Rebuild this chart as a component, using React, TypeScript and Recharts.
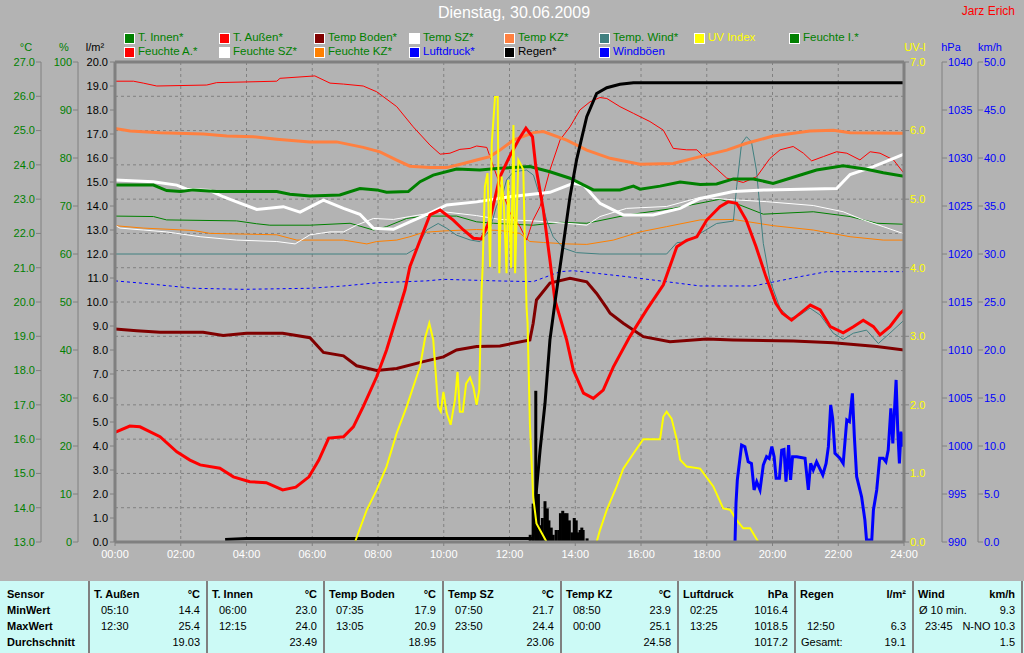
import React from 'react'
import { ComposedChart, Line, Bar, XAxis, YAxis, CartesianGrid, ReferenceLine } from 'recharts'

type Pt = [number, number]

// time axis (hours) and tick values of the six scales
const hourTicks = [0, 2, 4, 6, 8, 10, 12, 14, 16, 18, 20, 22, 24]
const tempTicks = [13, 14, 15, 16, 17, 18, 19, 20, 21, 22, 23, 24, 25, 26, 27]
const humTicks = [0, 10, 20, 30, 40, 50, 60, 70, 80, 90, 100]
const rainTicks = [0, 1, 2, 3, 4, 5, 6, 7, 8, 9, 10, 11, 12, 13, 14, 15, 16, 17, 18, 19, 20]
const uvTicks = [0, 1, 2, 3, 4, 5, 6, 7]
const hpaTicks = [990, 995, 1000, 1005, 1010, 1015, 1020, 1025, 1030, 1035, 1040]
const windTicks = [0, 5, 10, 15, 20, 25, 30, 35, 40, 45, 50]

// series: [hour, value]
const tAussen: Pt[] = [[0, 16.2], [0.45, 16.38], [0.76, 16.36], [1.37, 16.07], [1.88, 15.63], [2.28, 15.39], [2.59, 15.25], [3.19, 15.15], [3.6, 14.9], [4.1, 14.76], [4.6, 14.73], [5.1, 14.52], [5.5, 14.6], [5.9, 14.9], [6.2, 15.39], [6.5, 16.03], [6.95, 16.07], [7.25, 16.36], [7.55, 16.95], [7.96, 17.82], [8.26, 18.6], [8.57, 19.57], [8.82, 20.35], [8.97, 21.03], [9.28, 21.8], [9.58, 22.54], [9.89, 22.68], [10.29, 22.39], [10.6, 22.1], [10.9, 21.86], [11.15, 21.84], [11.4, 22.39], [11.71, 23.65], [12, 24.24], [12.3, 24.77], [12.5, 25.07], [12.7, 24.82], [12.8, 23.95], [13.03, 22.68], [13.23, 21.22], [13.38, 20.06], [13.74, 18.89], [13.94, 18.02], [14.25, 17.34], [14.55, 17.19], [14.85, 17.43], [15.16, 18.11], [15.66, 18.99], [16.17, 19.77], [16.68, 20.5], [17.09, 21.61], [17.39, 21.8], [17.7, 21.9], [18, 22.39], [18.4, 22.78], [18.65, 22.92], [18.91, 22.88], [19.2, 22.39], [19.5, 21.61], [19.8, 20.74], [20.1, 19.96], [20.3, 19.67], [20.58, 19.47], [20.84, 19.67], [21.15, 19.91], [21.45, 19.77], [21.76, 19.28], [22.15, 19.1], [22.46, 19.28], [22.76, 19.47], [23.07, 19.28], [23.27, 19.04], [23.57, 19.28], [23.88, 19.67], [24, 19.77]]
const tInnen: Pt[] = [[0, 23.41], [1.17, 23.41], [1.57, 23.25], [2, 23.22], [2.37, 23.27], [3.09, 23.22], [4.92, 23.22], [5.32, 23.14], [5.93, 23.09], [6.84, 23.12], [7.45, 23.31], [7.96, 23.27], [8.26, 23.2], [8.92, 23.22], [9.28, 23.51], [9.68, 23.7], [10.39, 23.88], [11.1, 23.85], [11.71, 23.9], [12.62, 23.95], [13.23, 23.8], [13.84, 23.61], [14.55, 23.27], [15.36, 23.27], [15.77, 23.38], [15.97, 23.29], [16.58, 23.38], [17.19, 23.5], [17.8, 23.43], [18.3, 23.44], [18.81, 23.59], [19.42, 23.59], [20.02, 23.46], [20.63, 23.64], [21.34, 23.85], [22.15, 23.97], [22.86, 23.87], [23.37, 23.77], [24, 23.67]]
const tBoden: Pt[] = [[0, 19.21], [0.66, 19.16], [1.37, 19.12], [2.68, 19.12], [3.29, 19.02], [4, 19.09], [5.1, 19.09], [5.93, 18.96], [6.34, 18.53], [6.95, 18.43], [7.35, 18.14], [7.96, 18.0], [8.57, 18.06], [9.38, 18.26], [9.99, 18.4], [10.39, 18.6], [11, 18.7], [11.71, 18.72], [12.62, 18.89], [12.72, 19.38], [12.82, 20.06], [13.23, 20.55], [13.84, 20.69], [14.35, 20.59], [14.65, 20.25], [14.96, 19.82], [15.06, 19.67], [15.46, 19.38], [16.07, 18.99], [16.88, 18.84], [18, 18.92], [18.8, 18.89], [20.63, 18.86], [21.85, 18.81], [23.17, 18.7], [24, 18.6]]
const tSZ: Pt[] = [[0, 23.56], [1.16, 23.51], [1.88, 23.41], [2.18, 23.29], [2.89, 23.25], [3.29, 23.07], [3.7, 22.92], [4.31, 22.7], [5.12, 22.78], [5.63, 22.62], [6.34, 22.97], [6.95, 22.73], [7.45, 22.56], [7.86, 22.15], [8.47, 22.12], [8.97, 22.34], [9.58, 22.59], [10.09, 22.83], [11, 22.92], [12, 23.07], [13.23, 23.2], [13.94, 23.46], [14.25, 23.41], [14.75, 22.88], [15.46, 22.54], [16.37, 22.54], [17.19, 22.73], [17.8, 23.02], [18.81, 23.22], [19.82, 23.27], [21.95, 23.31], [22.36, 23.72], [23.07, 23.95], [24, 24.31]]
const tKZ: Pt[] = [[0, 25.06], [0.46, 24.99], [1.37, 24.94], [2.69, 24.9], [3.4, 24.84], [4.21, 24.82], [4.92, 24.75], [5.93, 24.67], [6.74, 24.67], [7.55, 24.51], [8.06, 24.38], [8.57, 24.14], [8.97, 23.96], [9.58, 23.92], [10.09, 23.92], [10.6, 24.04], [11, 24.14], [11.4, 24.24], [11.71, 24.43], [12.12, 24.72], [12.73, 24.94], [13.03, 24.97], [13.74, 24.72], [14.35, 24.43], [15.06, 24.19], [15.97, 24.02], [16.98, 24.04], [17.8, 24.24], [18.61, 24.43], [19.21, 24.63], [20.02, 24.84], [21.14, 24.99], [21.85, 25.01], [22.36, 24.94], [24, 24.92]]
const tWind: Pt[] = [[0, 21.4], [8.87, 21.4], [9.17, 21.57], [9.48, 22.1], [9.83, 22.29], [10.09, 22.15], [10.39, 21.95], [10.8, 21.81], [11.1, 21.76], [11.4, 22.1], [11.6, 22.78], [11.8, 23.17], [11.91, 23.56], [12.12, 23.8], [12.52, 23.85], [12.73, 23.7], [12.93, 23.07], [13.13, 22.39], [13.33, 21.9], [13.64, 21.57], [14.04, 21.44], [14.75, 21.4], [16.78, 21.4], [17.09, 21.73], [17.39, 21.76], [17.8, 22.0], [18.3, 22.29], [18.81, 22.36], [18.91, 23.36], [19.06, 24.63], [19.21, 24.82], [19.36, 24.67], [19.51, 23.85], [19.72, 21.71], [19.92, 20.64], [20.23, 19.82], [20.53, 19.52], [20.84, 19.62], [21.14, 19.82], [21.45, 19.62], [21.85, 19.09], [22.15, 18.91], [22.46, 19.09], [22.86, 19.18], [23.22, 18.79], [23.57, 19.09], [24, 19.47]]

const feuchteA: Pt[] = [[0, 96.0], [0.56, 96.0], [0.86, 95.6], [1.27, 95.0], [2.79, 95.2], [3.09, 95.7], [4.92, 96.0], [5.02, 96.6], [6.08, 97.1], [6.54, 95.6], [6.95, 95.4], [7.55, 95.0], [7.96, 93.8], [8.57, 90.7], [9.07, 86.5], [9.58, 82.7], [9.89, 80.8], [10.19, 81.0], [10.49, 81.8], [10.8, 82.0], [11.0, 82.5], [11.31, 82.2], [11.51, 78.2], [11.71, 74.5], [12.02, 68.5], [12.32, 65.7], [12.52, 62.9], [12.72, 67.1], [12.93, 69.9], [13.23, 77.5], [13.54, 83.8], [13.84, 86.5], [14.14, 90.0], [14.45, 91.7], [14.75, 92.6], [14.96, 92.4], [15.36, 90.7], [15.77, 89.3], [16.27, 87.6], [16.68, 85.8], [16.98, 82.0], [17.39, 81.7], [17.7, 81.7], [18.0, 79.6], [18.61, 75.8], [19.11, 74.9], [19.52, 76.1], [19.92, 79.9], [20.23, 81.7], [20.63, 82.4], [20.94, 81.0], [21.19, 79.4], [21.55, 80.3], [21.95, 81.3], [22.26, 81.0], [22.66, 79.6], [22.97, 81.3], [23.27, 81.0], [23.68, 79.6], [24, 76.8]]
const feuchteSZ: Pt[] = [[0, 66.0], [0.15, 65.4], [0.86, 65.0], [1.57, 64.6], [2.59, 63.6], [3.7, 62.9], [4.92, 62.6], [5.48, 62.1], [5.93, 64.0], [6.54, 64.6], [6.95, 64.6], [7.35, 66.0], [7.86, 67.4], [8.47, 67.2], [8.97, 67.8], [9.58, 68.5], [9.99, 68.8], [11.0, 68.0], [11.71, 67.2], [12.72, 66.9], [13.74, 66.4], [14.35, 66.0], [14.75, 67.8], [15.56, 69.5], [16.78, 69.9], [17.8, 71.8], [18.81, 71.3], [19.82, 70.9], [21.24, 70.1], [22.15, 68.8], [22.76, 67.1], [23.37, 65.7], [24, 64.2]]
const feuchteKZ: Pt[] = [[0, 65.9], [0.86, 65.4], [2.38, 64.9], [2.89, 64.3], [4.92, 64.0], [5.53, 62.9], [6.95, 62.9], [7.66, 62.1], [7.96, 62.6], [8.57, 62.9], [8.97, 63.6], [9.38, 64.5], [9.99, 64.8], [11.0, 65.1], [11.71, 64.9], [12.32, 64.3], [12.62, 62.6], [13.03, 62.4], [13.74, 62.1], [14.35, 62.0], [15.16, 62.9], [15.97, 64.6], [16.78, 65.7], [17.8, 67.1], [18.81, 67.2], [20.02, 65.9], [21.24, 65.0], [22.36, 63.6], [23.37, 62.9], [24, 62.9]]
const feuchteI: Pt[] = [[0, 67.9], [1.17, 67.8], [1.57, 67.1], [3.7, 66.9], [4.31, 66.3], [4.71, 66.0], [5.93, 66.0], [7.15, 66.4], [7.86, 65.0], [8.26, 65.7], [8.87, 67.4], [9.38, 67.9], [10.39, 67.9], [11.0, 66.7], [11.51, 66.4], [12.72, 66.0], [13.54, 66.6], [14.35, 66.4], [15.56, 68.1], [16.98, 69.5], [18.4, 71.4], [19.01, 70.2], [19.72, 68.3], [21.24, 68.8], [22.36, 67.8], [23.17, 66.4], [24, 66.2]]

const luftdruck: Pt[] = [[0, 1017.2], [0.86, 1016.95], [2.38, 1016.43], [3.9, 1016.32], [5.93, 1016.43], [6.95, 1016.67], [7.96, 1017.0], [9.48, 1017.2], [9.99, 1017.36], [11.71, 1017.19], [12.72, 1017.12], [13.54, 1018.16], [13.94, 1018.26], [15.56, 1017.64], [17.8, 1016.67], [19.42, 1016.67], [20.84, 1017.64], [21.65, 1018.16], [24, 1018.16]]

const regenSumme: Pt[] = [[3.35, 0.1], [4.0, 0.15], [12.72, 0.15], [12.82, 2.17], [12.93, 3.83], [13.08, 5.78], [13.23, 8.42], [13.4, 10.15], [13.64, 12.44], [13.84, 14.39], [14.04, 15.92], [14.35, 17.72], [14.65, 18.69], [14.96, 18.93], [15.36, 19.07], [15.77, 19.14], [24, 19.14]]
const regenMenge: Pt[] = [[12.63, 0.3], [12.72, 1.6], [12.8, 6.3], [12.88, 2.0], [12.95, 0.7], [13.0, 1.0], [13.08, 1.7], [13.15, 1.4], [13.2, 0.9], [13.27, 0.6], [13.33, 0.3], [13.42, 0.5], [13.5, 0.5], [13.55, 1.2], [13.62, 1.3], [13.68, 1.2], [13.75, 1.2], [13.82, 0.9], [13.9, 0.4], [13.97, 1.0], [14.03, 0.9], [14.08, 0.4], [14.15, 0.5], [14.2, 0.6], [14.24, 0.5], [14.36, 0.15]]

const uvIndex: Pt[] = [[0, 0], [7.3, 0], [7.66, 0.47], [7.96, 0.76], [8.26, 1.1], [8.57, 1.59], [8.87, 1.97], [9.07, 2.26], [9.28, 2.56], [9.43, 2.97], [9.56, 3.19], [9.68, 2.95], [9.83, 1.97], [9.91, 1.9], [9.99, 2.19], [10.09, 1.88], [10.21, 1.71], [10.34, 2.07], [10.42, 2.48], [10.49, 1.9], [10.58, 1.9], [10.68, 2.31], [10.8, 2.4], [10.9, 2.26], [11.0, 2.0], [11.08, 2.22], [11.15, 3.67], [11.18, 3.97], [11.25, 5.18], [11.33, 5.38], [11.41, 4.01], [11.46, 5.81], [11.56, 6.49], [11.64, 6.49], [11.69, 3.92], [11.76, 5.33], [11.83, 4.89], [11.91, 3.92], [11.96, 5.28], [12.05, 4.0], [12.12, 6.08], [12.17, 3.92], [12.27, 5.57], [12.35, 5.5], [12.42, 5.43], [12.47, 4.31], [12.52, 3.41], [12.55, 3.19], [12.62, 1.73], [12.72, 0.66], [12.82, 0.27], [12.98, 0.13], [13.13, 0], [14.65, 0], [14.75, 0.17], [14.96, 0.47], [15.26, 0.81], [15.46, 1.07], [15.77, 1.29], [16.07, 1.5], [16.58, 1.5], [16.68, 1.83], [16.78, 1.9], [16.93, 1.8], [17.09, 1.49], [17.19, 1.2], [17.39, 1.1], [17.8, 1.07], [18.2, 0.81], [18.5, 0.49], [18.71, 0.47], [18.91, 0.32], [19.11, 0.2], [19.32, 0.2], [19.57, 0], [24, 0]]

const windboeen: Pt[] = [[18.86, 0], [18.89, 4.03], [18.93, 6.46], [19.06, 10.1], [19.16, 9.93], [19.26, 8.36], [19.36, 8.19], [19.44, 5.42], [19.52, 6.28], [19.62, 5.42], [19.72, 8.02], [19.82, 8.89], [19.9, 8.7], [19.98, 9.93], [20.05, 8.89], [20.11, 6.63], [20.21, 6.63], [20.28, 9.58], [20.35, 9.65], [20.41, 6.28], [20.49, 10.1], [20.55, 6.46], [20.61, 8.89], [20.74, 8.89], [20.99, 8.72], [21.09, 5.42], [21.16, 8.19], [21.24, 7.5], [21.34, 8.36], [21.53, 6.98], [21.63, 8.19], [21.7, 9.93], [21.77, 14.27], [21.83, 12.88], [21.9, 9.24], [22.05, 8.72], [22.15, 8.19], [22.26, 12.71], [22.34, 12.53], [22.43, 15.49], [22.49, 10.97], [22.56, 6.8], [22.71, 4.72], [22.81, 2.29], [22.86, 0.2], [23.02, 0.2], [23.07, 3.33], [23.17, 5.42], [23.26, 8.72], [23.37, 8.72], [23.45, 8.36], [23.52, 9.58], [23.6, 13.93], [23.66, 10.28], [23.7, 13.05], [23.76, 16.88], [23.81, 11.67], [23.86, 8.19], [23.91, 11.49], [23.96, 9.93], [24, 11.32]]

// legend
const legendRow1 = ['T. Innen*', 'T. Außen*', 'Temp Boden*', 'Temp SZ*', 'Temp KZ*', 'Temp. Wind*', 'UV Index', 'Feuchte I.*']
const legendRow2 = ['Feuchte A.*', 'Feuchte SZ*', 'Feuchte KZ*', 'Luftdruck*', 'Regen*', 'Windböen']

// statistics table
const tabHeads = ['T. Außen', 'T. Innen', 'Temp Boden', 'Temp SZ', 'Temp KZ', 'Luftdruck', 'Regen', 'Wind']
const tabUnits = ['°C', '°C', '°C', '°C', '°C', 'hPa', 'l/m²', 'km/h']
const minLabels = ['05:10', '06:00', '07:35', '07:50', '08:50', '02:25', '', 'Ø 10 min.']
const minValues = ['14.4', '23.0', '17.9', '21.7', '23.9', '1016.4', '', '9.3']
const maxLabels = ['12:30', '12:15', '13:05', '23:50', '00:00', '13:25', '12:50', '23:45']
const maxValues = ['25.4', '24.0', '20.9', '24.4', '25.1', '1018.5', '6.3', 'N-NO 10.3']
const avgLabels = ['', '', '', '', '', '', 'Gesamt:', '']
const avgValues = ['19.03', '23.49', '18.95', '23.06', '24.58', '1017.2', '19.1', '1.5']

const colors: Record<string, string> = {
  'T. Innen*': '#008000', 'T. Außen*': '#ff0000', 'Temp Boden*': '#800000', 'Temp SZ*': '#ffffff',
  'Temp KZ*': '#ff8040', 'Temp. Wind*': '#408080', 'UV Index': '#ffff00', 'Feuchte I.*': '#008000',
  'Feuchte A.*': '#ff0000', 'Feuchte SZ*': '#ffffff', 'Feuchte KZ*': '#ff8000', 'Luftdruck*': '#0000ff',
  'Regen*': '#000000', 'Windböen': '#0000ff',
}
const textColor = (name: string) =>
  name === 'UV Index' ? '#ffff00' : name === 'Luftdruck*' || name === 'Windböen' ? '#0000ff' : name === 'Regen*' ? '#000000' : '#008000'

const rows = (pts: Pt[]) => pts.map(([h, v]) => ({ h, v }))
const rainBars = regenMenge.map(([h, r]) => ({ h, r }))

// axis ids: recharts stacks same-side axes in id order, so prefix sets nearest-to-plot first
const RAIN = 'l1rain'
const HUM = 'l2hum'
const TEMP = 'l3temp'
const UV = 'r1uv'
const HPA = 'r2hpa'
const WIND = 'r3wind'

const BG = '#b3b3b3'
const AXIS = '#808080'
const FONT = '"Liberation Sans", Arial, sans-serif'
const seps = [88, 206, 323, 442, 560, 677, 794, 912, 1021]

function Txt({ x, y, children, color = '#000', size = 11, bold = false, align = 'left' }: any) {
  const style: React.CSSProperties = {
    position: 'absolute', top: y, fontSize: size, color, fontWeight: bold ? 700 : 400,
    whiteSpace: 'nowrap', lineHeight: '13px',
  }
  if (align === 'right') {
    style.left = x - 200
    style.width = 200
    style.textAlign = 'right'
  } else if (align === 'center') {
    style.left = x - 150
    style.width = 300
    style.textAlign = 'center'
  } else style.left = x
  return <div style={style}>{children}</div>
}

function lineProps(y: string, color: string, width: number) {
  return {
    xAxisId: 't', yAxisId: y, dataKey: 'v', type: 'linear' as const, stroke: color, strokeWidth: width,
    dot: false, activeDot: false, isAnimationActive: false,
  }
}

// rain bars: fixed 3px wide column centred on the bar's slot
const RainBar = (p: any) => (
  <rect x={p.x + p.width / 2 - 1.5} y={p.y} width={3} height={Math.max(0, p.height)} fill="#000000" />
)

export default function App() {
  const tick = (fill: string) => ({ fill, fontSize: 11 })
  return (
    <div style={{ position: 'relative', width: 1024, height: 653, background: BG, fontFamily: FONT, overflow: 'hidden' }}>
      <style>{'body{margin:0}'}</style>

      <Txt x={514} y={6} size={16} color="#ffffff" align="center">Dienstag, 30.06.2009</Txt>
      <Txt x={1015} y={5} size={12} color="#ff0000" align="right">Jarz Erich</Txt>

      {[legendRow1, legendRow2].map((row, r) =>
        row.map((name, c) => (
          <React.Fragment key={name}>
            <div style={{
              position: 'absolute', left: 124 + c * 95, top: 33 + r * 14, width: 9, height: 9,
              background: colors[name], border: '1px solid #ffffff',
            }} />
            <Txt x={138 + c * 95} y={31 + r * 14} color={textColor(name)} size={11.5}>{name}</Txt>
          </React.Fragment>
        )),
      )}

      <Txt x={26} y={41} color="#008000" align="center">°C</Txt>
      <Txt x={64} y={41} color="#008000" align="center">%</Txt>
      <Txt x={95} y={41} color="#000000" align="center">l/m²</Txt>
      <Txt x={915} y={41} color="#ffff00" align="center">UV-I</Txt>
      <Txt x={951} y={41} color="#0000ff" align="center">hPa</Txt>
      <Txt x={990} y={41} color="#0000ff" align="center">km/h</Txt>

      <div style={{ position: 'absolute', left: 0, top: 0 }}>
        <ComposedChart width={1024} height={578} data={rainBars} margin={{ top: 62, right: 0, bottom: 6, left: 0 }}>
          <CartesianGrid xAxisId="t" yAxisId={TEMP} stroke={AXIS} strokeDasharray="3 3" />
          <XAxis xAxisId="t" dataKey="h" type="number" domain={[0, 24]} ticks={hourTicks} interval={0}
            tickFormatter={(h: number) => `${String(h).padStart(2, '0')}:00`} height={30}
            axisLine={{ stroke: AXIS, strokeWidth: 3 }} tickLine={{ stroke: AXIS }} tickSize={4} tickMargin={4}
            tick={tick('#ffffff')} allowDataOverflow />
          <YAxis yAxisId={RAIN} orientation="left" width={37} domain={[0, 20]} ticks={rainTicks} interval={0}
            tickFormatter={(v: number) => v.toFixed(1)} axisLine={{ stroke: AXIS, strokeWidth: 3 }}
            tickLine={{ stroke: AXIS }} tickSize={5} tickMargin={2} tick={tick('#000000')} allowDataOverflow />
          <YAxis yAxisId={HUM} orientation="left" width={37} domain={[0, 100]} ticks={humTicks} interval={0}
            axisLine={{ stroke: AXIS }} tickLine={{ stroke: AXIS }} tickSize={5} tickMargin={1}
            tick={tick('#008000')} allowDataOverflow />
          <YAxis yAxisId={TEMP} orientation="left" width={41} domain={[13, 27]} ticks={tempTicks} interval={0}
            tickFormatter={(v: number) => v.toFixed(1)} axisLine={{ stroke: AXIS }} tickLine={{ stroke: AXIS }}
            tickSize={5} tickMargin={1} tick={tick('#008000')} allowDataOverflow />
          <YAxis yAxisId={UV} orientation="right" width={38} domain={[0, 7]} ticks={uvTicks} interval={0}
            tickFormatter={(v: number) => v.toFixed(1)} axisLine={{ stroke: AXIS, strokeWidth: 3 }}
            tickLine={{ stroke: AXIS }} tickSize={5} tickMargin={1} tick={tick('#ffff00')} allowDataOverflow />
          <YAxis yAxisId={HPA} orientation="right" width={36} domain={[990, 1040]} ticks={hpaTicks} interval={0}
            axisLine={{ stroke: AXIS }} tickLine={{ stroke: AXIS }} tickSize={5} tickMargin={1}
            tick={tick('#0000ff')} allowDataOverflow />
          <YAxis yAxisId={WIND} orientation="right" width={46} domain={[0, 50]} ticks={windTicks} interval={0}
            tickFormatter={(v: number) => v.toFixed(1)} axisLine={{ stroke: AXIS }} tickLine={{ stroke: AXIS }}
            tickSize={5} tickMargin={1} tick={tick('#0000ff')} allowDataOverflow />

          <ReferenceLine xAxisId="t" yAxisId={RAIN} y={20} stroke={AXIS} strokeWidth={3} />

          <Line {...lineProps(HUM, colors['Feuchte I.*'], 1)} data={rows(feuchteI)} />
          <Line {...lineProps(HUM, colors['Feuchte KZ*'], 1)} data={rows(feuchteKZ)} />
          <Line {...lineProps(HUM, colors['Feuchte SZ*'], 1)} data={rows(feuchteSZ)} />
          <Line {...lineProps(HUM, colors['Feuchte A.*'], 1)} data={rows(feuchteA)} />
          <Line {...lineProps(HPA, colors['Luftdruck*'], 1)} strokeDasharray="3 3" data={rows(luftdruck)} />
          <Line {...lineProps(TEMP, colors['Temp. Wind*'], 1)} data={rows(tWind)} />
          <Line {...lineProps(TEMP, colors['Temp KZ*'], 3)} data={rows(tKZ)} />
          <Line {...lineProps(TEMP, colors['Temp SZ*'], 3)} data={rows(tSZ)} />
          <Line {...lineProps(TEMP, colors['T. Innen*'], 3)} data={rows(tInnen)} />
          <Line {...lineProps(TEMP, colors['Temp Boden*'], 3)} data={rows(tBoden)} />
          <Line {...lineProps(TEMP, colors['T. Außen*'], 3)} data={rows(tAussen)} />
          <Bar xAxisId="t" yAxisId={RAIN} dataKey="r" fill="#000000" barSize={3} shape={RainBar} isAnimationActive={false} />
          <Line {...lineProps(RAIN, colors['Regen*'], 3)} data={rows(regenSumme)} />
          <Line {...lineProps(UV, colors['UV Index'], 2)} data={rows(uvIndex)} />
          <Line {...lineProps(WIND, colors['Windböen'], 3)} data={rows(windboeen)} />
        </ComposedChart>
      </div>

      <div style={{ position: 'absolute', left: 0, top: 581, width: 1024, height: 72, background: '#ccfaf6' }}>
        {seps.map(s => (
          <div key={s} style={{ position: 'absolute', left: s, top: 0, width: 2, height: 72, background: AXIS }} />
        ))}
        <Txt x={7} y={7} bold>Sensor</Txt>
        <Txt x={7} y={23} bold>MinWert</Txt>
        <Txt x={7} y={39} bold>MaxWert</Txt>
        <Txt x={7} y={55} bold>Durchschnitt</Txt>
        {tabHeads.map((head, i) => {
          const s = seps[i]
          const e = seps[i + 1] - 6
          const off = (lab: string) => (/^\d\d:\d\d$/.test(lab) ? 13 : 7)
          return (
            <React.Fragment key={head}>
              <Txt x={s + 6} y={7} bold>{head}</Txt>
              <Txt x={e} y={7} bold align="right">{tabUnits[i]}</Txt>
              <Txt x={s + off(minLabels[i])} y={23}>{minLabels[i]}</Txt>
              <Txt x={e} y={23} align="right">{minValues[i]}</Txt>
              <Txt x={s + off(maxLabels[i])} y={39}>{maxLabels[i]}</Txt>
              <Txt x={e} y={39} align="right">{maxValues[i]}</Txt>
              <Txt x={s + off(avgLabels[i])} y={55}>{avgLabels[i]}</Txt>
              <Txt x={e} y={55} align="right">{avgValues[i]}</Txt>
            </React.Fragment>
          )
        })}
      </div>
    </div>
  )
}
